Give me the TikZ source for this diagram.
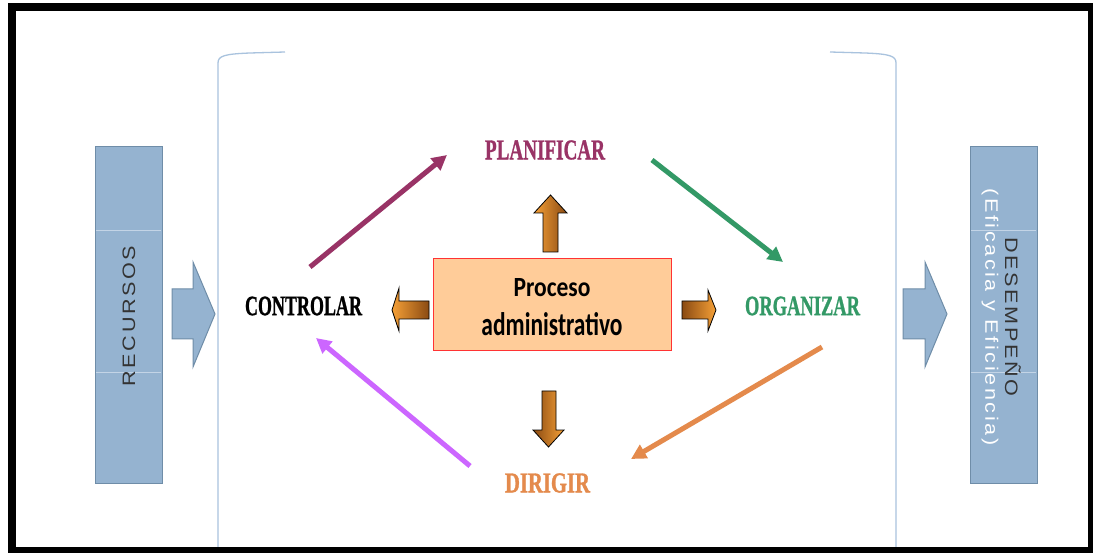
\documentclass[tikz,border=0pt]{standalone}
\usepackage{fontspec}
\setmainfont{Liberation Sans}
\newfontfamily\lblfont{Liberation Serif}[FakeBold=1.2]
\newfontfamily\boxfont{Carlito}
\newfontfamily\sidefont{Liberation Sans}[LetterSpace=12]
\usetikzlibrary{arrows.meta}
\definecolor{sideblue}{HTML}{95B3D0}
\definecolor{sideedge}{HTML}{6F8DA8}
\definecolor{sideline}{HTML}{C3D4E6}
\definecolor{bracket}{HTML}{A9C3DE}
\definecolor{plan}{HTML}{993366}
\definecolor{org}{HTML}{339966}
\definecolor{dir}{HTML}{E48A4C}
\definecolor{ctrl}{HTML}{CC66FF}
\definecolor{peach}{HTML}{FFCC99}
\definecolor{boxred}{HTML}{FF3333}
\definecolor{brn}{HTML}{8A4A12}
\definecolor{orng}{HTML}{F5A037}
\definecolor{sidetext}{HTML}{333333}
\newcommand{\wide}[1]{\scalebox{1.2}[1]{#1}}
\tikzset{
  sidebox/.style={draw=sideedge, fill=sideblue, line width=1pt, minimum width=67pt, minimum height=336pt, inner sep=0pt},
  sidetxt/.style={font=\sidefont\fontsize{18}{20}\selectfont, inner sep=0pt},
  bluearrow/.style={fill=sideblue, draw=sideedge, line width=1pt, line join=miter},
  bracketline/.style={draw=bracket, line width=1.3pt},
  procbox/.style={draw=boxred, fill=peach, line width=1pt, minimum width=238pt, minimum height=92pt, inner sep=0pt, align=center, font=\boxfont\bfseries\fontsize{20}{39}\selectfont},
  lbl/.style={inner sep=0pt, font=\lblfont\bfseries\fontsize{24}{26}\selectfont},
  flow/.style={line width=5pt, -{Triangle[length=15pt,width=15pt]}},
  blockarrow/.style={draw=black, line width=0.8pt, line join=miter},
}
\begin{document}
\begin{tikzpicture}[x=1pt,y=-1pt]
\useasboundingbox (0,0) rectangle (1093,553);
\fill[white] (0,0) rectangle (1093,553);

% bracket lines
\draw[bracketline] (285,52) -- (250,53) .. controls (224,54) and (218,56) .. (218,63) -- (218,549);
\draw[bracketline] (830,52) -- (865,53) .. controls (890,54) and (896,56) .. (896,63) -- (896,549);

% side boxes
\node[sidebox] (recursos) at (128.5,315) {};
\draw[sideline, line width=0.8pt] (96,230) -- (161,230) (96,372) -- (161,372);
\node[rotate=90, text=sidetext, sidetxt] (recursostxt) at (129,316) {\wide{RECURSOS}};

\node[sidebox] (desempeno) at (1003.5,315) {};
\draw[sideline, line width=0.8pt] (971,230) -- (1036,230) (971,372) -- (1036,372);
\node[rotate=-90, text=sidetext, sidetxt] (desempenotxt) at (1013,317) {\wide{DESEMPEÑO}};
\node[rotate=-90, text=white, sidetxt] (eficacia) at (990,317) {\wide{(Eficacia y Eficiencia)}};

% big blue arrows
\path[bluearrow] (172,289) -- (193,289) -- (193,262) -- (215,314) -- (193,367) -- (193,339) -- (172,339) -- cycle;
\path[bluearrow] (903,289) -- (925,289) -- (925,262) -- (947,314) -- (925,367) -- (925,339) -- (903,339) -- cycle;

% central box
\node[procbox] (proceso) at (552,305) {\rule{0pt}{23pt}\resizebox{77pt}{18pt}{Proceso}\\\resizebox{141pt}{23pt}{administrativo}};

% labels
\node[lbl, text=plan] (planificar) at (545,150) {\resizebox{120pt}{19pt}{PLANIFICAR}};
\node[lbl, text=black] (controlar) at (303.5,306) {\resizebox{117pt}{18.5pt}{CONTROLAR}};
\node[lbl, text=org] (organizar) at (802.5,306) {\resizebox{115pt}{18.5pt}{ORGANIZAR}};
\node[lbl, text=dir] (dirigir) at (547.5,483) {\resizebox{85pt}{19pt}{DIRIGIR}};

% cycle arrows
\coordinate (c1) at (310,267); \coordinate (p1) at (447,155);
\coordinate (p2) at (652,160); \coordinate (o1) at (783,262);
\coordinate (o2) at (822,347); \coordinate (d1) at (631,459);
\coordinate (d2) at (470,466); \coordinate (c2) at (316,338);
\draw[flow, plan] (c1) -- (p1);
\draw[flow, org] (p2) -- (o1);
\draw[flow, dir] (o2) -- (d1);
\draw[flow, ctrl] (d2) -- (c2);

% orange block arrows from the central box
\shade[blockarrow, left color=orng, right color=brn] (543,252) -- (543,213) -- (534,213) -- (550.5,195) -- (567,213) -- (558,213) -- (558,252) -- cycle;
\shade[blockarrow, left color=brn, right color=orng] (542,391) -- (556,391) -- (556,430) -- (564,430) -- (548.5,447) -- (533,430) -- (542,430) -- cycle;
\shade[blockarrow, left color=orng, right color=brn] (429,301) -- (399,301) -- (399,288) -- (392,310) -- (399,331) -- (399,319) -- (429,319) -- cycle;
\shade[blockarrow, left color=brn, right color=orng] (682,301) -- (708,301) -- (708,290) -- (716,310) -- (708,331) -- (708,319) -- (682,319) -- cycle;

% outer frame
\draw[line width=8pt] (12,7) rectangle (1092,551);
\end{tikzpicture}
\end{document}
